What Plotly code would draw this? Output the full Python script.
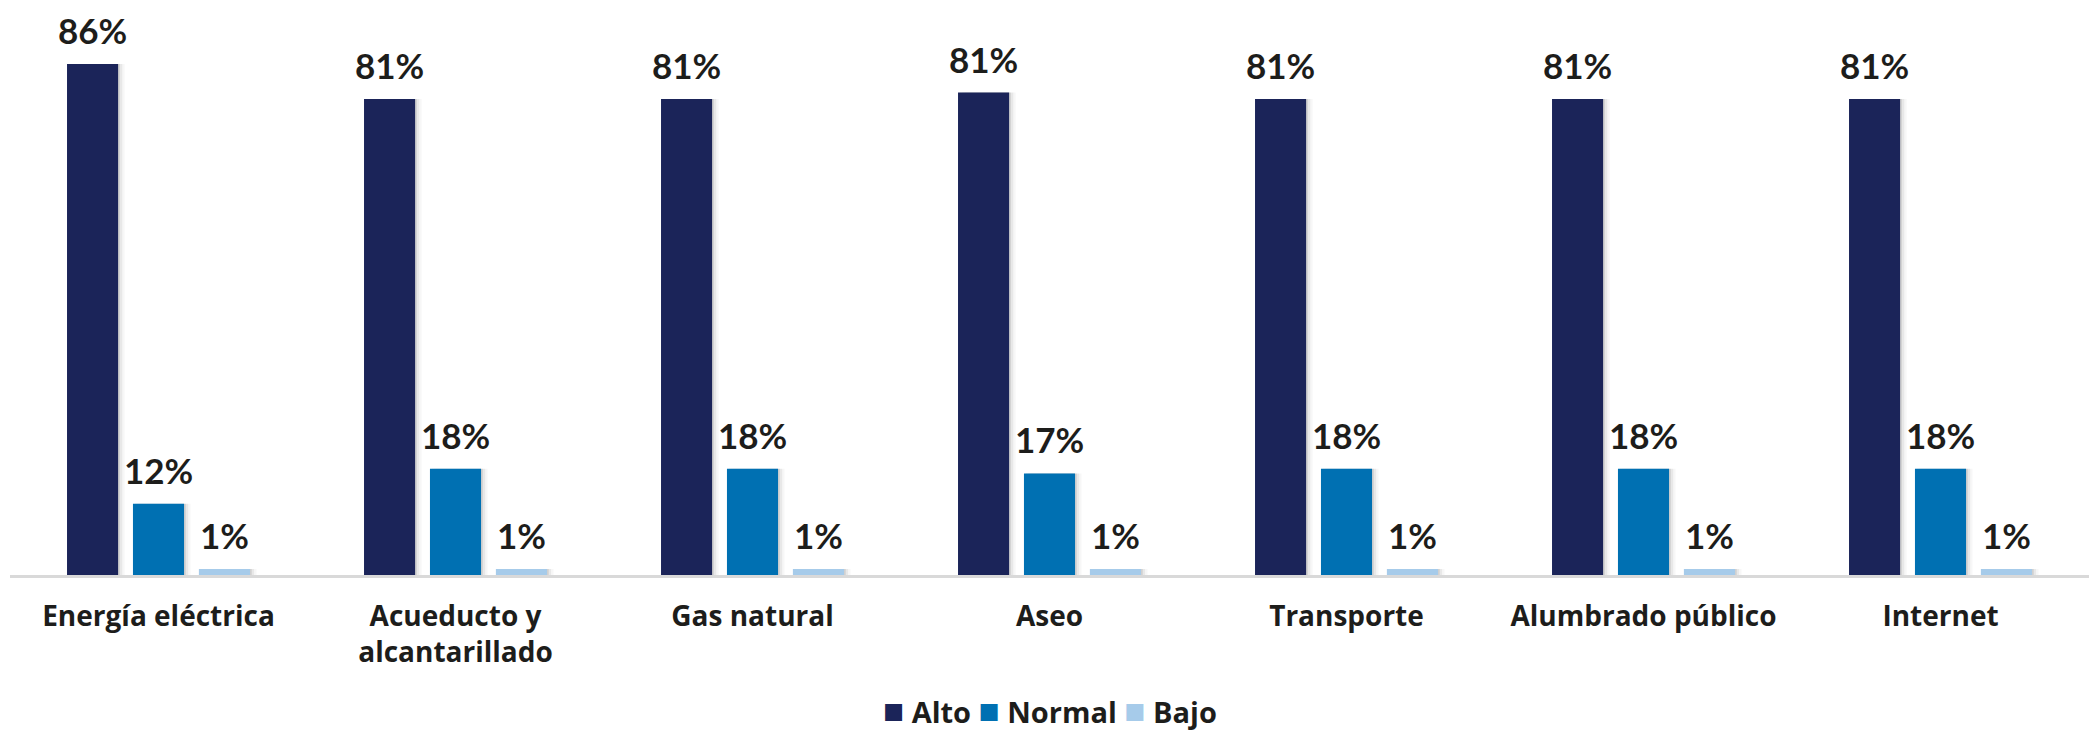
import plotly.graph_objects as go

categories = ["Energía eléctrica", "Acueducto y<br>alcantarillado", "Gas natural", "Aseo",
              "Transporte", "Alumbrado público", "Internet"]
series_names = ["Alto", "Normal", "Bajo"]
alto = [86, 80.1, 80.1, 81.2, 80.1, 80.1, 80.1]
normal = [12, 17.9, 17.9, 17.1, 17.9, 17.9, 17.9]
bajo = [1, 1, 1, 1, 1, 1, 1]
alto_labels = ["86%", "81%", "81%", "81%", "81%", "81%", "81%"]
normal_labels = ["12%", "18%", "18%", "17%", "18%", "18%", "18%"]
bajo_labels = ["1%", "1%", "1%", "1%", "1%", "1%", "1%"]

colors = ["#1B2459", "#0070B2", "#A6CBEA"]
values = [alto, normal, bajo]
labels = [alto_labels, normal_labels, bajo_labels]

FONT = "Open Sans"
LFONT = "Lato"
TXT = "#1d1d1b"
W = 0.172
STEP = 0.222
offsets = [-W / 2 - STEP, -W / 2, -W / 2 + STEP]
idx = list(range(len(categories)))

fig = go.Figure()
# soft shadows
for s in range(3):
    for dx, op in [(0.006, 0.10), (0.014, 0.06), (0.022, 0.03)]:
        fig.add_trace(go.Bar(
            x=idx, y=values[s], offset=offsets[s] + dx, width=W,
            marker=dict(color=f"rgba(0,0,0,{op})", line=dict(width=0)),
            showlegend=False, hoverinfo="skip"))
for s in range(3):
    fig.add_trace(go.Bar(
        x=idx, y=values[s], offset=offsets[s], width=W, name=series_names[s],
        marker=dict(color=colors[s], line=dict(width=0)), showlegend=False))

annotations = []
for s in range(3):
    for i in idx:
        annotations.append(dict(
            x=i + offsets[s] + W / 2, y=values[s][i], xref="x", yref="y",
            text=labels[s][i], showarrow=False, yanchor="bottom", yshift=11,
            font=dict(family=LFONT, size=35, color=TXT, weight="bold")))

legend_parts = []
for s in range(3):
    legend_parts.append(
        f"<span style='color:{colors[s]};font-size:35px'>■</span> {series_names[s]}")
annotations.append(dict(
    x=0.5, y=-(709 - 575) / (575 - 10), xref="paper", yref="paper",
    text=" ".join(legend_parts), yanchor="middle", borderpad=0,
    showarrow=False, font=dict(family=FONT, size=29, color=TXT, weight="bold")))

fig.update_layout(
    width=2093, height=737,
    margin=dict(l=10, r=4, t=10, b=162),
    paper_bgcolor="white", plot_bgcolor="white",
    barmode="overlay",
    showlegend=False,
    annotations=annotations,
    xaxis=dict(range=[-0.5, 6.5], tickvals=idx, ticktext=categories,
               showgrid=False, zeroline=False, showline=True, linecolor="#d9d9d9",
               linewidth=3, ticks="", ticklabelstandoff=14,
               tickfont=dict(family=FONT, size=28, color=TXT, weight="bold")),
    yaxis=dict(range=[0, 95.1], visible=False, showgrid=False, zeroline=False),
)

fig.write_html("out.html", config={"displayModeBar": False},
               post_script="document.body.style.margin='0px';")
